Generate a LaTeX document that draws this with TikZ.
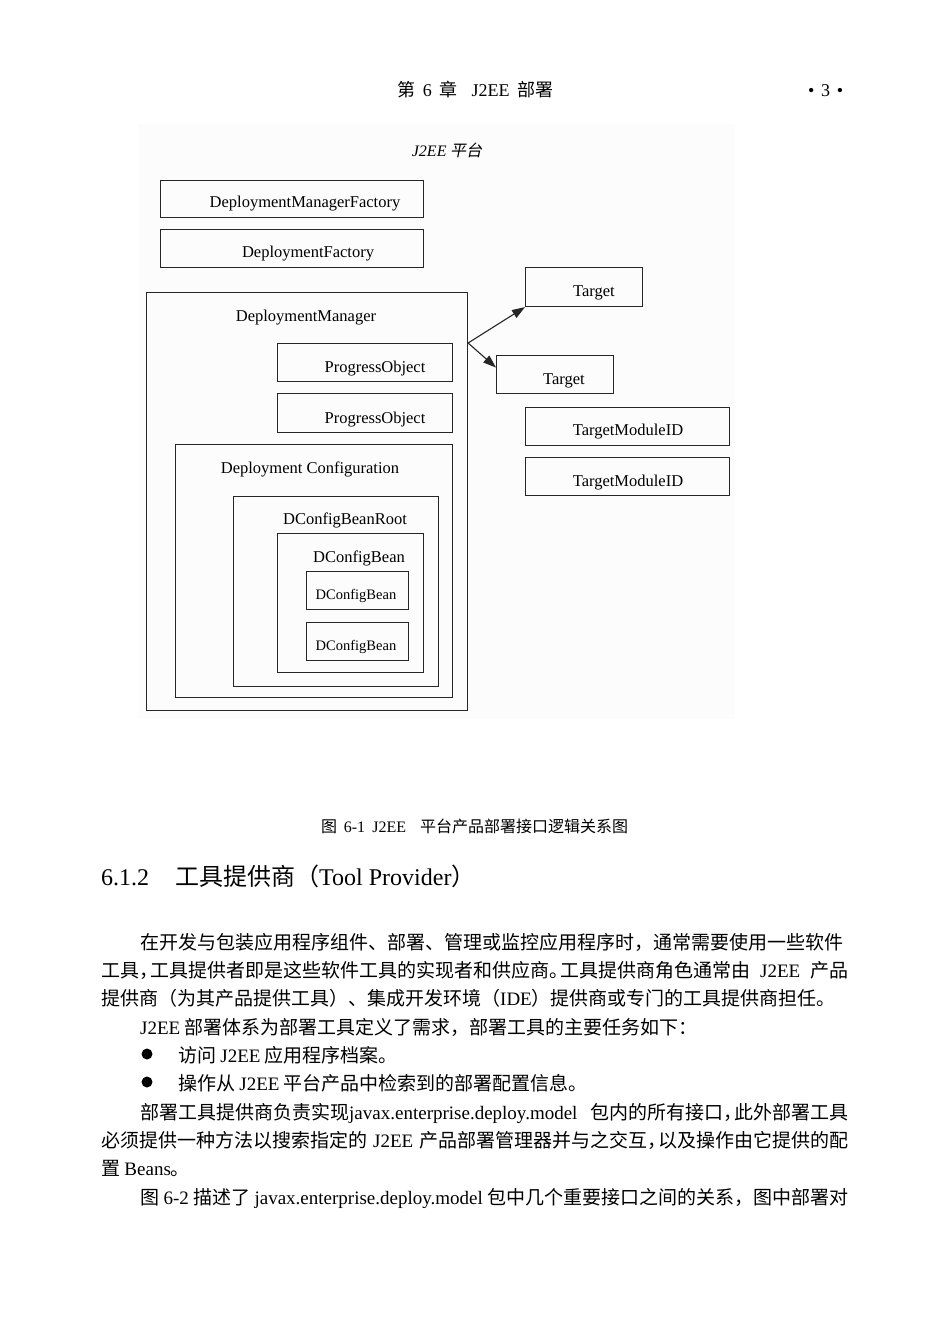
\documentclass[tikz,border=0pt]{standalone}
\usepackage{fontspec}
\setmainfont{Noto Sans CJK SC}
\newfontfamily\lat{Liberation Serif}
\newfontfamily\cjkit{Noto Sans CJK SC}[FakeSlant=0.2]
\usetikzlibrary{arrows.meta,calc}
\XeTeXlinebreaklocale "zh"
\XeTeXlinebreakskip=0pt plus 2pt
\newcommand\cc{{，}\kern-0.42em}
\newcommand\pp{{。}\kern-0.42em}
\tikzset{
  bx/.style={draw=black!85, line width=1.1pt, inner sep=0pt, anchor=north west},
  lab/.style={font=\fontsize{16.5}{18}\selectfont\lat, inner sep=0pt, yshift=-2.5pt},
  smlab/.style={font=\fontsize{14.5}{16}\selectfont\lat, inner sep=0pt, yshift=-2pt},
  body/.style={font=\fontsize{19}{22}\selectfont, inner sep=0pt, anchor=base west},
  arr/.style={draw=black!85, line width=1.1pt, -{Triangle[length=13pt,width=9pt]}},
}
\begin{document}
\begin{tikzpicture}[x=1pt,y=-1pt]
\fill[white] (0,0) rectangle (950,1342);
\useasboundingbox (0,0) rectangle (950,1342);
% header
\node[inner sep=0pt, anchor=base west, font=\fontsize{18}{20}\selectfont] (hd) at (397,96) {\hbox to 156pt{第 {\lat 6} 章\hspace{14pt}{\lat J2EE} 部署}};
\node[inner sep=0pt, anchor=base west, font=\fontsize{18}{20}\selectfont\lat] (pg) at (808,96) {\hbox to 35pt{\textbullet\hfill 3\hfill\textbullet}};
% diagram background
\fill[black!1] (138,124) rectangle (735,719);
\node[font=\fontsize{16}{18}\selectfont, inner sep=0pt] (title) at (447,150) {{\lat\itshape J2EE} {\cjkit 平台}};
% boxes
\node[bx, minimum width=263pt, minimum height=37pt] (dmf) at (160,180) {};
\node[lab] (dmft) at (305,201) {DeploymentManagerFactory};
\node[bx, minimum width=263pt, minimum height=38pt] (df) at (160,229) {};
\node[lab] (dft) at (308,251) {DeploymentFactory};
\node[bx, minimum width=117pt, minimum height=39pt] (t1) at (525,267) {};
\node[lab] (t1t) at (594,290) {Target};
\node[bx, minimum width=321pt, minimum height=418pt] (dm) at (146,292) {};
\node[lab] (dmt) at (306,315) {DeploymentManager};
\node[bx, minimum width=175pt, minimum height=38pt] (po1) at (277,343) {};
\node[lab] (po1t) at (375,366) {ProgressObject};
\node[bx, minimum width=175pt, minimum height=39pt] (po2) at (277,393) {};
\node[lab] (po2t) at (375,417) {ProgressObject};
\node[bx, minimum width=117pt, minimum height=38pt] (t2) at (496,355) {};
\node[lab] (t2t) at (564,378) {Target};
\node[bx, minimum width=204pt, minimum height=38pt] (tm1) at (525,407) {};
\node[lab] (tm1t) at (628,429) {TargetModuleID};
\node[bx, minimum width=204pt, minimum height=38pt] (tm2) at (525,457) {};
\node[lab] (tm2t) at (628,480) {TargetModuleID};
\node[bx, minimum width=277pt, minimum height=253pt] (dc) at (175,444) {};
\node[lab] (dct) at (310,467) {Deployment Configuration};
\node[bx, minimum width=205pt, minimum height=190pt] (dbr) at (233,496) {};
\node[lab] (dbrt) at (345,518) {DConfigBeanRoot};
\node[bx, minimum width=146pt, minimum height=139pt] (db) at (277,533) {};
\node[lab] (dbt) at (359,556) {DConfigBean};
\node[bx, minimum width=102pt, minimum height=38pt] (db1) at (306,571) {};
\node[smlab] (db1t) at (356,594) {DConfigBean};
\node[bx, minimum width=102pt, minimum height=38pt] (db2) at (306,622) {};
\node[smlab] (db2t) at (356,645) {DConfigBean};
% arrows
\coordinate (src) at ($(dm.north east)+(0,51)$);
\draw[arr] (src) -- (t1.south west);
\draw[arr] (src) -- ($(t2.west)+(0,-7)$);
% caption
\node[inner sep=0pt, anchor=base west, font=\fontsize{16}{18}\selectfont] (cap) at (321,832) {\hbox to 307pt{图 {\lat 6-1 J2EE}\hspace{14pt}平台产品部署接口逻辑关系图}};
% heading
\node[inner sep=0pt, anchor=base west, font=\fontsize{24}{26}\selectfont] (head) at (101,885) {{\lat 6.1.2}\hspace{26pt}工具提供商（{\lat Tool Provider}）};
% body
\node[body] (l1) at (140,949) {\hbox to 708pt{在开发与包装应用程序组件、部署、管理或监控应用程序时，通常需要使用一些软件}};
\node[body] (l2) at (101,977) {\hbox to 747pt{工具\cc 工具提供者即是这些软件工具的实现者和供应商\pp 工具提供商角色通常由 {\lat J2EE} 产品}};
\node[body] (l3) at (101,1005) {\hbox to 747pt{提供商（为其产品提供工具）、集成开发环境（{\lat IDE}）提供商或专门的工具提供商担任。}};
\node[body] (l4) at (140,1034) {{\lat J2EE} 部署体系为部署工具定义了需求，部署工具的主要任务如下：};
\fill (147,1054) circle (5.5);
\node[body] (l5) at (178,1062) {访问 {\lat J2EE} 应用程序档案。};
\fill (147,1082) circle (5.5);
\node[body] (l6) at (178,1090) {操作从 {\lat J2EE} 平台产品中检索到的部署配置信息。};
\node[body] (l7) at (140,1119) {\hbox to 708pt{部署工具提供商负责实现{\lat javax.enterprise.deploy.model} 包内的所有接口\cc 此外部署工具}};
\node[body] (l8) at (101,1147) {\hbox to 747pt{必须提供一种方法以搜索指定的 {\lat J2EE} 产品部署管理器并与之交互\cc 以及操作由它提供的配}};
\node[body] (l9) at (101,1175) {置 {\lat Beans}。};
\node[body] (l10) at (140,1204) {\hbox to 708pt{图 {\lat 6-2} 描述了 {\lat javax.enterprise.deploy.model} 包中几个重要接口之间的关系，图中部署对}};
\end{tikzpicture}
\end{document}
